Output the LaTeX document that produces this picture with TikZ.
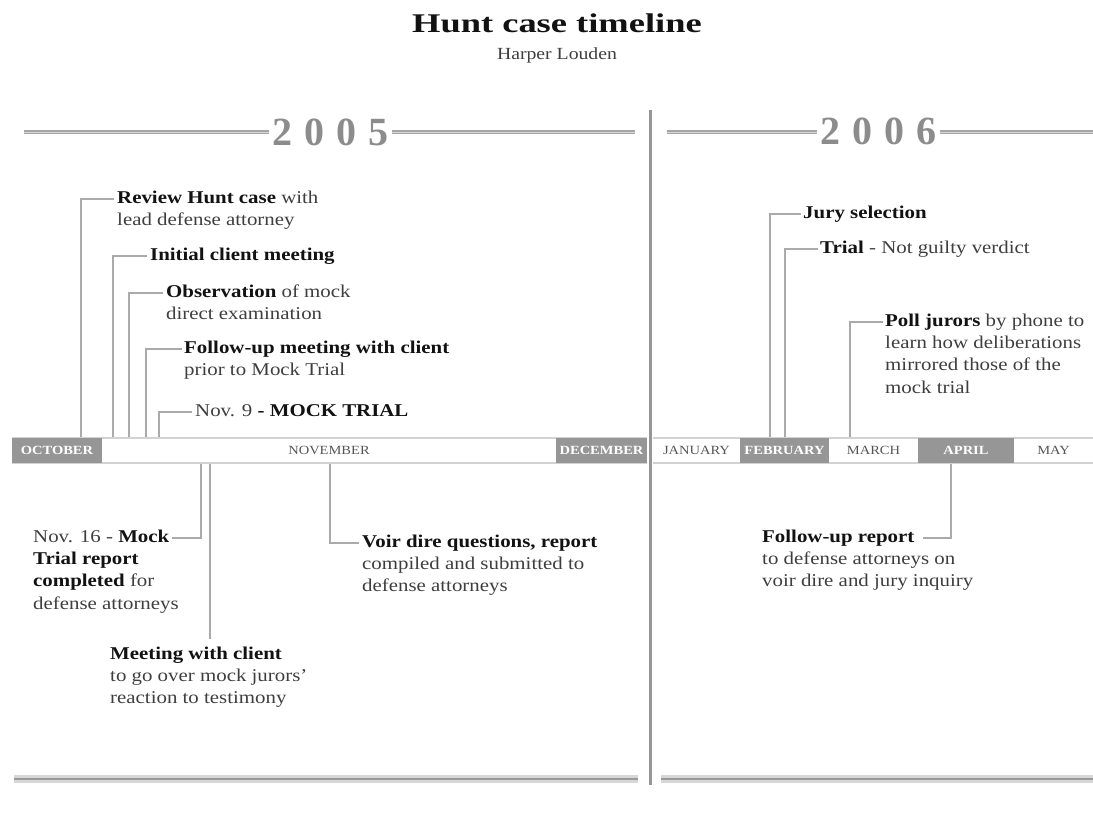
\documentclass[tikz,border=0pt]{standalone}
\usepackage{fontspec}
\setmainfont[FakeStretch=1.16]{Liberation Serif}
\newfontfamily\titlefont[FakeStretch=1.35]{Liberation Serif}
\newfontfamily\yearfont{Liberation Serif}
\usetikzlibrary{calc}
\definecolor{boxgray}{RGB}{150,150,150}
\definecolor{linegray}{RGB}{170,170,170}
\definecolor{barline}{RGB}{210,210,210}
\definecolor{txt}{RGB}{62,62,62}
\definecolor{ink}{RGB}{18,18,18}
\definecolor{monthtxt}{RGB}{85,85,85}
\definecolor{yeargray}{RGB}{140,140,140}
\definecolor{hdrdark}{RGB}{165,165,165}
\definecolor{hdrlight}{RGB}{215,215,215}
\definecolor{divgray}{RGB}{150,150,150}
\newcommand\hb[1]{\textcolor{ink}{\textbf{#1}}}
\begin{document}
\begin{tikzpicture}[x=1pt,y=-1pt,
  conn/.style={draw=linegray, line width=1.3pt},
  head/.style={anchor=west, inner sep=0pt, text height=12pt, text depth=4pt,
    font=\fontsize{18}{22.5}\selectfont, text=txt},
  body/.style={anchor=north west, inner sep=0pt, align=left,
    font=\fontsize{18}{22.5}\selectfont, text=txt},
  mgray/.style={fill=boxgray, draw=none, minimum height=25pt, inner sep=0pt,
    font=\bfseries\fontsize{12.5}{14}\selectfont, text=white},
  mwhite/.style={fill=none, draw=none, minimum height=25pt, inner sep=0pt,
    font=\fontsize{12.5}{14}\selectfont, text=monthtxt},
  yeartxt/.style={anchor=base, inner sep=0pt, text=yeargray,
    font=\yearfont\bfseries\fontsize{40}{44}\selectfont},
  hdr/.style={draw=hdrdark, double=hdrlight, double distance=0.9pt, line width=1.1pt},
  foot/.style={draw=hdrlight, line width=8pt},
  footc/.style={draw=gray!80, line width=1.8pt},
  divider/.style={draw=divgray, line width=3pt},
  bar/.style={draw=barline, line width=1.5pt}
]
\useasboundingbox (0,0) rectangle (1093,838);

% Title
\node[anchor=base, inner sep=0pt, text=ink,
  font=\titlefont\bfseries\fontsize{27}{30}\selectfont] (title) at (557,32) {Hunt case timeline};
\node[anchor=base, inner sep=0pt, text=txt,
  font=\fontsize{17}{20}\selectfont] (author) at (557,59) {Harper Louden};

% Divider
\coordinate (dtop) at (650,110);
\coordinate (dbot) at (650,785);
\draw[divider] (dtop) -- (dbot);

% Year headers
\node[yeartxt] (y5) at (330,145) {2\hspace{12pt}0\hspace{12pt}0\hspace{12pt}5};
\node[yeartxt] (y6) at (878,144) {2\hspace{12pt}0\hspace{12pt}0\hspace{12pt}6};
\coordinate (h1) at (24,132);
\coordinate (h2) at (635,132);
\coordinate (h3) at (667,132);
\coordinate (h4) at (1093,132);
\draw[hdr] (h1) -- ([xshift=-3pt]h1 -| y5.west);
\draw[hdr] ([xshift=4pt]h2 -| y5.east) -- (h2);
\draw[hdr] (h3) -- ([xshift=-3pt]h3 -| y6.west);
\draw[hdr] ([xshift=4pt]h4 -| y6.east) -- (h4);

% Footer lines
\coordinate (f1) at (14,779);
\coordinate (f2) at (638,779);
\coordinate (f3) at (661,779);
\coordinate (f4) at (1093,779);
\draw[foot] (f1) -- (f2);
\draw[footc] (f1) -- (f2);
\draw[foot] (f3) -- (f4);
\draw[footc] (f3) -- (f4);

% Month bar
\coordinate (b1l) at (12,438);
\coordinate (b1r) at (647,438);
\coordinate (b2l) at (12,463);
\coordinate (b2r) at (647,463);
\coordinate (b3l) at (653,438);
\coordinate (b3r) at (1093,438);
\coordinate (b4l) at (653,463);
\coordinate (b4r) at (1093,463);
\draw[bar] (b1l) -- (b1r);
\draw[bar] (b2l) -- (b2r);
\draw[bar] (b3l) -- (b3r);
\draw[bar] (b4l) -- (b4r);

\node[mgray, minimum width=90pt] (oct) at (57,450.5) {OCTOBER};
\node[mwhite, minimum width=454pt] (nov) at (329,450.5) {NOVEMBER};
\node[mgray, minimum width=91pt] (dec) at (601.5,450.5) {DECEMBER};
\node[mwhite, minimum width=87pt] (jan) at (696.5,450.5) {JANUARY};
\node[mgray, minimum width=89pt] (feb) at (784.5,450.5) {FEBRUARY};
\node[mwhite, minimum width=89pt] (mar) at (873.5,450.5) {MARCH};
\node[mgray, minimum width=96pt] (apr) at (966,450.5) {APRIL};
\node[mwhite, minimum width=79pt] (may) at (1053.5,450.5) {MAY};

% Tick coordinates
\coordinate (t1) at (81,437);
\coordinate (t2) at (113,437);
\coordinate (t3) at (129,437);
\coordinate (t4) at (146,437);
\coordinate (t5) at (159,437);
\coordinate (u1) at (201,464);
\coordinate (u2) at (210,464);
\coordinate (u3) at (330,464);
\coordinate (t6) at (770,437);
\coordinate (t7) at (785,437);
\coordinate (t8) at (850,437);
\coordinate (u4) at (951,464);

% 2005 events above
\node[head] (rev) at (117,199) {\hb{Review Hunt case} with};
\node[body] (revb) at ($(rev.west)+(0,13.5)$) {\rule{0pt}{13pt}lead defense attorney};
\node[head] (ini) at (150,256) {\hb{Initial client meeting}};
\node[head] (obs) at (166,293) {\hb{Observation} of mock};
\node[body] (obsb) at ($(obs.west)+(0,13.5)$) {\rule{0pt}{13pt}direct examination};
\node[head] (fol) at (184,349) {\hb{Follow-up meeting with client}};
\node[body] (folb) at ($(fol.west)+(0,13.5)$) {\rule{0pt}{13pt}prior to Mock Trial};
\node[head] (n9) at (195,412) {Nov. 9 \hb{- MOCK TRIAL}};

\draw[conn] (t1) |- ([xshift=-3pt]rev.west);
\draw[conn] (t2) |- ([xshift=-3pt]ini.west);
\draw[conn] (t3) |- ([xshift=-3pt]obs.west);
\draw[conn] (t4) |- ([xshift=-2pt]fol.west);
\draw[conn] (t5) |- ([xshift=-3pt]n9.west);

% 2005 events below
\node[head] (n16) at (33,538) {Nov. 16 - \hb{Mock}};
\node[body] (n16b) at ($(n16.west)+(0,13)$) {\rule{0pt}{13pt}\hb{Trial report}\\\hb{completed} for\\defense attorneys};
\node[head] (meet) at (110,655) {\hb{Meeting with client}};
\node[body] (meetb) at ($(meet.west)+(0,13)$) {\rule{0pt}{13pt}to go over mock jurors'\\reaction to testimony};
\node[head] (voir) at (362,543) {\hb{Voir dire questions, report}};
\node[body] (voirb) at ($(voir.west)+(0,13)$) {\rule{0pt}{13pt}compiled and submitted to\\defense attorneys};

\draw[conn] (u1) |- ([xshift=3pt]n16.east);
\draw[conn] (u2) -- ($(u2 |- meet.north)+(0,-8)$);
\draw[conn] (u3) |- ([xshift=-3pt]voir.west);

% 2006 events above
\node[head] (jury) at (803,214) {\hb{Jury selection}};
\node[head] (trial) at (820,249) {\hb{Trial} - Not guilty verdict};
\node[head] (poll) at (885,322) {\hb{Poll jurors} by phone to};
\node[body] (pollb) at ($(poll.west)+(0,13)$) {\rule{0pt}{13pt}learn how deliberations\\mirrored those of the\\mock trial};

\draw[conn] (t6) |- ([xshift=-2pt]jury.west);
\draw[conn] (t7) |- ([xshift=-2pt]trial.west);
\draw[conn] (t8) |- ([xshift=-2pt]poll.west);

% 2006 events below
\node[head] (fur) at (762,538) {\hb{Follow-up report}};
\node[body] (furb) at ($(fur.west)+(0,13)$) {\rule{0pt}{13pt}to defense attorneys on\\voir dire and jury inquiry};
\draw[conn] (u4) |- ([xshift=8pt]fur.east);

\end{tikzpicture}
\end{document}
